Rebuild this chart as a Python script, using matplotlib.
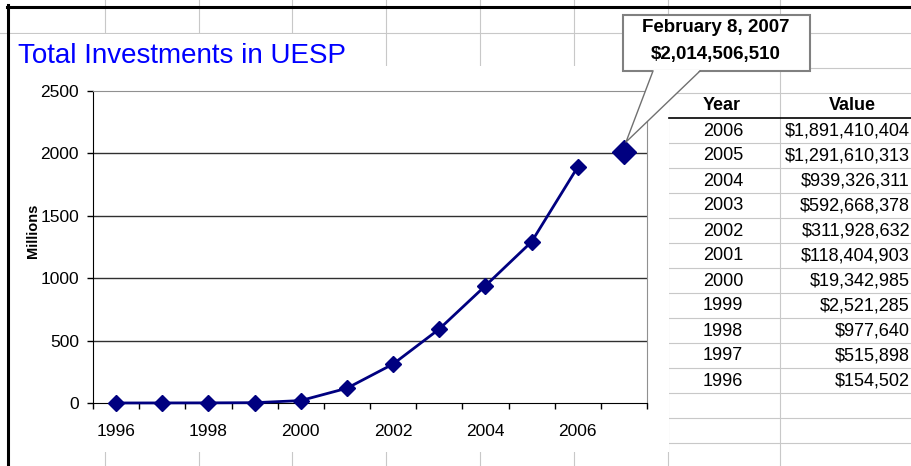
import numpy as np
import matplotlib.pyplot as plt
from matplotlib.patches import Rectangle, Polygon

plt.rcParams['font.family'] = ['Liberation Sans', 'DejaVu Sans']

# data
years = [1996, 1997, 1998, 1999, 2000, 2001, 2002, 2003, 2004, 2005, 2006]
values = [154502, 515898, 977640, 2521285, 19342985, 118404903, 311928632,
          592668378, 939326311, 1291610313, 1891410404]
latest_x = 2007.0
latest_value = 2014506510
latest_label = "February 8, 2007"

title = "Total Investments in UESP"
millions = np.array(values) / 1e6

W, H = 912, 466
fig = plt.figure(figsize=(W / 100, H / 100), dpi=100)

# spreadsheet background, pixel coordinates
bg = fig.add_axes([0, 0, 1, 1], zorder=0)
bg.set_xlim(0, W)
bg.set_ylim(H, 0)
bg.axis('off')

grid_c = '#c8c8c8'
for x in [105, 199, 292, 386, 480, 574, 668, 780]:
    bg.plot([x, x], [0, H], color=grid_c, lw=0.8)
bg.plot([0, W], [33, 33], color=grid_c, lw=0.8)
bg.plot([669, W], [68, 68], color=grid_c, lw=0.8)
for y in range(93, 444, 25):
    if y == 118:
        continue
    bg.plot([669, W], [y, y], color=grid_c, lw=0.8)

# chart area and title cell hide the cell grid
bg.add_patch(Rectangle((8, 66), 661, 386, facecolor='white', edgecolor='none', zorder=3))
bg.add_patch(Rectangle((8, 34), 377, 33, facecolor='white', edgecolor='none', zorder=3))

# screen border
bg.plot([8.5, 8.5], [5, H], color='black', lw=2.2, zorder=4)
bg.plot([7, W], [6.5, 6.5], color='black', lw=2.2, zorder=4)

# table
bg.plot([669, W], [118, 118], color='black', lw=1.2, zorder=4)
bg.text(722, 106, "Year", ha='center', va='center', fontsize=13, fontweight='bold', zorder=4)
bg.text(852, 106, "Value", ha='center', va='center', fontsize=13, fontweight='bold', zorder=4)
for i, (yr, v) in enumerate(zip(years[::-1], values[::-1])):
    yc = 131 + 25 * i
    bg.text(723, yc, str(yr), ha='center', va='center', fontsize=13, zorder=4)
    bg.text(910, yc, f"${v:,}", ha='right', va='center', fontsize=13, zorder=4)

fig.text(18 / W, 1 - 63 / H, title, color='#0000ff', fontsize=20, va='baseline')
fig.text(33 / W, 1 - 231 / H, "Millions", rotation=90, ha='center', va='center',
         fontsize=10.5, fontweight='bold')

# plot area
ax = fig.add_axes([93 / W, (H - 403) / H, (647 - 93) / W, (403 - 91) / H], zorder=2)
ax.set_facecolor('white')
navy = '#000080'
ax.plot(years, millions, color=navy, lw=2, marker='D', ms=8, zorder=3, clip_on=False)
ax.plot([latest_x], [latest_value / 1e6], color=navy, marker='D', ms=12,
        ls='none', zorder=3, clip_on=False)

ax.set_xlim(1995.5, 2007.5)
ax.set_ylim(0, 2500)
ax.set_yticks(range(0, 2501, 500))
ax.set_xticks(np.arange(1995.5, 2007.6, 1.0))
ax.set_xticklabels([])
ax.set_xticks(range(1996, 2007, 2), minor=True)
ax.set_xticklabels([str(y) for y in range(1996, 2007, 2)], minor=True)
ax.tick_params(axis='x', which='major', length=4.5, width=1, direction='out')
ax.tick_params(axis='x', which='minor', length=0, pad=15, labelsize=12.5)
ax.tick_params(axis='y', length=4, width=1, direction='out', pad=6, labelsize=12.5)
for yv in [500, 1000, 1500, 2000]:
    ax.axhline(yv, color='#303030', lw=1, zorder=1)
for s in ['left', 'bottom']:
    ax.spines[s].set_color('black')
for s in ['top', 'right']:
    ax.spines[s].set_color('#909090')

# callout
top = fig.add_axes([0, 0, 1, 1], zorder=5)
top.set_xlim(0, W)
top.set_ylim(H, 0)
top.axis('off')
top.add_patch(Rectangle((623, 15), 187, 56, facecolor='white', edgecolor='#808080', lw=1.5))
top.add_patch(Polygon([(653, 70), (626, 142), (700, 70)], closed=True,
                      facecolor='white', edgecolor='none'))
top.plot([653, 626, 700], [71, 142, 71], color='#707070', lw=1)
top.text(716, 28, latest_label, ha='center', va='center', fontsize=13.5, fontweight='bold')
top.text(716, 55, f"${latest_value:,}", ha='center', va='center', fontsize=13.5,
         fontweight='bold')

fig.savefig('out.png', dpi=100)
